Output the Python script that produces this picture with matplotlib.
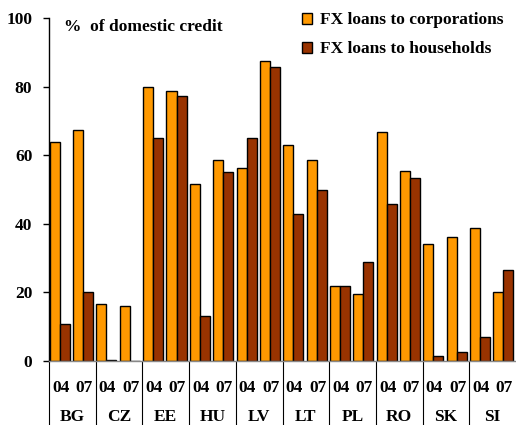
import matplotlib
matplotlib.use("Agg")
import matplotlib.pyplot as plt
import matplotlib.transforms as mtransforms
import numpy as np

countries = ["BG", "CZ", "EE", "HU", "LV", "LT", "PL", "RO", "SK", "SI"]
years = ["04", "07"]
# values per country: [2004, 2007]
corporations = [63.8, 67.3, 16.6, 16.1, 79.8, 78.6, 51.7, 58.5, 56.4, 87.4,
                62.9, 58.5, 21.8, 19.6, 66.8, 55.5, 34.1, 36.2, 38.8, 20.1]
households = [10.9, 20.1, 0.4, 0.0, 65.1, 77.3, 13.1, 55.1, 65.1, 85.6,
              42.8, 49.8, 21.8, 28.9, 45.8, 53.4, 1.4, 2.6, 7.1, 26.6]
yticks = [0, 20, 40, 60, 80, 100]

plt.rcParams['font.family'] = ['Liberation Serif', 'DejaVu Serif']
plt.rcParams['font.weight'] = 'bold'

fig = plt.figure(figsize=(5.16, 4.25), dpi=100)
ax = fig.add_axes([0.095, 0.1506, 0.905, 0.807])

n = len(corporations)
x = np.arange(n)
w = 0.43
ax.bar(x - w / 2 - 0.04, corporations, width=w, color="#FF9900", edgecolor="black",
       linewidth=1.0, label="FX loans to corporations")
ax.bar(x + w / 2 - 0.04, households, width=w, color="#993300", edgecolor="black",
       linewidth=1.0, label="FX loans to households")

ax.set_xlim(-0.5, n - 0.5)
ax.set_ylim(0, 100)
ax.set_yticks(yticks)
ax.set_yticklabels([str(v) for v in yticks], fontsize=12.5, fontweight='bold')
ax.tick_params(axis='y', direction='out', length=4, width=1, pad=8)

ax.set_xticks(x)
ax.set_xticklabels([years[i % 2] for i in range(n)], fontsize=12.5, fontweight='bold')
ax.tick_params(axis='x', length=0, pad=14)

for s in ['top', 'right']:
    ax.spines[s].set_visible(False)
ax.spines['left'].set_linewidth(1)
ax.spines['bottom'].set_linewidth(1)
ax.spines['bottom'].set_color('#888888')

trans = mtransforms.blended_transform_factory(ax.transData, ax.transAxes)
for g, c in enumerate(countries):
    ax.text(2 * g + 0.5, -0.163, c, transform=trans, ha='center', va='center',
            fontsize=12.5, fontweight='bold')
    ax.plot([2 * g - 0.5, 2 * g - 0.5], [0, -0.19], transform=trans,
            color='black', linewidth=0.8, clip_on=False)

ax.text(0.033, 0.997, "%  of domestic credit", transform=ax.transAxes,
        ha='left', va='top', fontsize=12.5, fontweight='bold')

leg = ax.legend(loc='upper left', bbox_to_anchor=(0.508, 1.062), frameon=False,
                handlelength=0.6, handleheight=0.6,
                handletextpad=0.45, labelspacing=0.75,
                prop={'weight': 'bold', 'size': 12.5})

fig.savefig("out.png", dpi=100)
